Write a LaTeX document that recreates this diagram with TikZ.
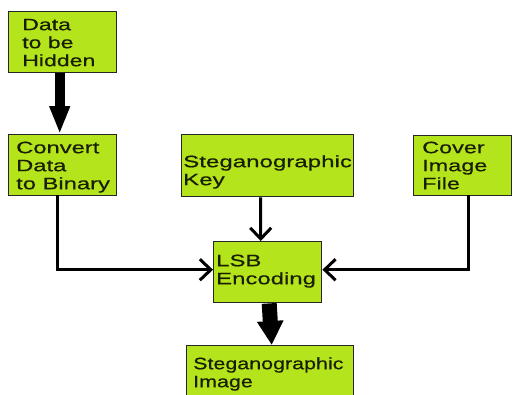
\documentclass[tikz,border=0pt]{standalone}
\usepackage{fontspec}
\setmainfont{Liberation Sans}
% widened cuts of the same face, one per box
\newfontfamily\wideA{Liberation Sans}[FakeStretch=1.40,FakeBold=0.5]
\newfontfamily\wideB{Liberation Sans}[FakeStretch=1.44,FakeBold=0.5]
\newfontfamily\wideC{Liberation Sans}[FakeStretch=1.46,FakeBold=0.5]
\newfontfamily\wideD{Liberation Sans}[FakeStretch=1.42,FakeBold=0.5]
\newfontfamily\wideE{Liberation Sans}[FakeStretch=1.45,FakeBold=0.5]
\newfontfamily\wideF{Liberation Sans}[FakeStretch=1.30,FakeBold=0.5]
\usetikzlibrary{arrows.meta,calc}
\definecolor{boxgreen}{RGB}{180,228,28}
\definecolor{inkdark}{RGB}{25,30,0}
\begin{document}
\begin{tikzpicture}[x=1bp,y=-1bp,
  box/.style={draw=black!85,line width=1.4bp,fill=boxgreen,inner sep=0,anchor=north west},
  txt/.style={inner sep=0,anchor=north west,align=left,text=inkdark,
    font=#1\fontsize{16.5bp}{18bp}\selectfont},
  flow/.style={line width=3bp,-{Straight Barb[width=21bp,length=11bp]}},
  bigflow/.style={line width=10bp,-{Triangle[width=19bp,length=28bp]}},
  hugeflow/.style={line width=15bp,-{Triangle[width=25bp,length=24bp]}}]
\useasboundingbox (0,0) rectangle (519,394);
\clip (0,0) rectangle (519,394);

% boxes
\node[box,minimum width=108bp,minimum height=61bp] (hidden) at (8,11) {};
\node[box,minimum width=108bp,minimum height=61bp] (binary) at (8,134) {};
\node[box,minimum width=172bp,minimum height=62bp] (key) at (181,134) {};
\node[box,minimum width=98bp,minimum height=60bp] (cover) at (413,135) {};
\node[box,minimum width=108bp,minimum height=61bp] (lsb) at (213,241) {};
\node[box,minimum width=167bp,minimum height=75bp] (stego) at (186,345) {};

% labels (the rule fixes the top of the first line 12bp above its baseline)
\node[txt=\wideA] (hiddenT) at (22,18) {\rule{0pt}{12bp}Data\\to be\\Hidden};
\node[txt=\wideB] (binaryT) at (16,141) {\rule{0pt}{12bp}Convert\\Data\\to Binary};
\node[txt=\wideC] (keyT) at (183,155) {\rule{0pt}{12bp}Steganographic\\Key};
\node[txt=\wideD] (coverT) at (422,141) {\rule{0pt}{12bp}Cover\\Image\\File};
\node[txt=\wideE] (lsbT) at (216,254) {\rule{0pt}{12bp}LSB\\Encoding};
\node[txt=\wideF] (stegoT) at (193,357) {\rule{0pt}{12bp}Steganographic\\Image};

% connectors
\draw[bigflow] ([xshift=-3bp]hidden.south) -- ([xshift=-3bp]binary.north);
\draw[flow] ([xshift=-7bp]key.south) -- ([xshift=-7bp]lsb.north);
\draw[flow,line cap=rect] ([xshift=-5bp]binary.south) |- ([yshift=2.5bp]lsb.west);
\draw[flow,line cap=rect] ([xshift=6bp]cover.south) |- ([yshift=2.5bp]lsb.east);
\draw[hugeflow] ([xshift=1.5bp]lsb.south) -- ([xshift=1.5bp]stego.north);
\end{tikzpicture}
\end{document}
